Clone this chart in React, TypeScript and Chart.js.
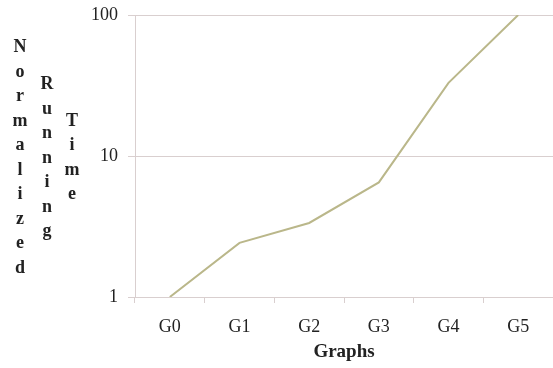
import React, { useEffect, useRef } from "react";
import { Chart, registerables } from "chart.js";

Chart.register(...registerables);

const categories = ["G0", "G1", "G2", "G3", "G4", "G5"];
const runningTime = [1, 2.42, 3.35, 6.5, 33, 100];
const yTicks = [1, 10, 100];
const yTitleColumns = ["Normalized", "Running", "Time"];
const xTitle = "Graphs";

const SERIF = "'Liberation Serif', 'DejaVu Serif', serif";

const stackedTitle = {
  id: "stackedTitle",
  afterDraw(chart: any) {
    const { ctx } = chart;
    const cy = 158;
    const xs = [20, 47, 72];
    const step = 24.5;
    ctx.save();
    ctx.fillStyle = "#222";
    ctx.font = `bold 18px ${SERIF}`;
    ctx.textAlign = "center";
    ctx.textBaseline = "middle";
    yTitleColumns.forEach((word, ci) => {
      const letters = word.split("");
      const start = cy - ((letters.length - 1) * step) / 2;
      letters.forEach((ch, li) => {
        ctx.fillText(ch, xs[ci], start + li * step);
      });
    });
    ctx.restore();
  },
};

export default function App() {
  const ref = useRef<HTMLCanvasElement>(null);
  useEffect(() => {
    if (!ref.current) return;
    const chart = new Chart(ref.current, {
      type: "line",
      data: {
        labels: categories,
        datasets: [
          {
            data: runningTime,
            borderColor: "#bab78a",
            borderWidth: 2,
            pointRadius: 0,
            tension: 0,
            fill: false,
          },
        ],
      },
      options: {
        animation: false,
        responsive: false,
        maintainAspectRatio: false,
        layout: { padding: { top: 15, right: 0, left: 0, bottom: 0 } },
        plugins: {
          legend: { display: false },
          tooltip: { enabled: false },
          title: { display: false },
        },
        scales: {
          x: {
            type: "category",
            offset: true,
            grid: {
              display: true,
              offset: true,
              drawOnChartArea: false,
              drawTicks: true,
              tickLength: 6,
              color: "#d9cfcf",
            },
            border: { display: true, color: "#d9cfcf", width: 1 },
            ticks: {
              color: "#222",
              font: { family: SERIF, size: 18 },
              padding: 13,
              maxRotation: 0,
            },
            title: {
              display: true,
              text: xTitle,
              color: "#222",
              font: { family: SERIF, size: 19, weight: "bold" },
              padding: { top: 2, bottom: 5 },
            },
            afterFit(scale: any) {
              scale.height = 71;
              scale.paddingLeft = 0;
              scale.paddingRight = 0;
            },
          },
          y: {
            type: "logarithmic",
            min: 1,
            max: 100,
            afterBuildTicks(scale: any) {
              scale.ticks = yTicks.map((v) => ({ value: v }));
            },
            grid: {
              color: "#d9cfcf",
              tickLength: 7,
              drawTicks: true,
            },
            border: { display: true, color: "#d9cfcf", width: 1 },
            ticks: {
              color: "#222",
              font: { family: SERIF, size: 18 },
              padding: 10,
              callback: (v: any) => String(v),
            },
            afterFit(scale: any) {
              scale.width = 135;
              scale.paddingTop = 0;
              scale.paddingBottom = 0;
            },
          },
        },
      },
      plugins: [stackedTitle],
    });
    return () => chart.destroy();
  }, []);
  return (
    <div style={{ position: "fixed", left: 0, top: 0, width: 553, height: 368, background: "#fff" }}>
      <canvas ref={ref} width={553} height={368} style={{ width: 553, height: 368, display: "block" }} />
    </div>
  );
}
